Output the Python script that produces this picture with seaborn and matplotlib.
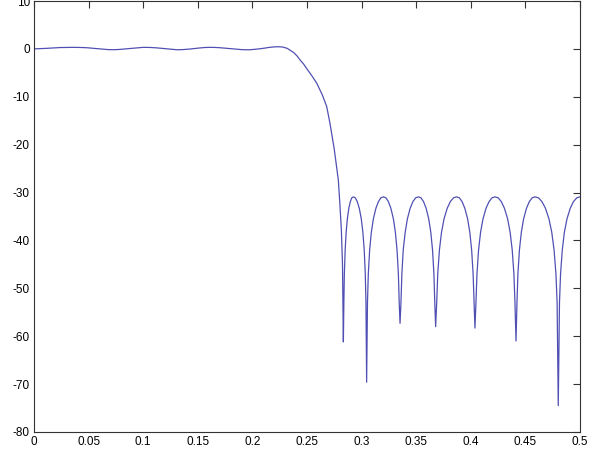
import pandas as pd
import seaborn as sns
import matplotlib
matplotlib.use("Agg")
import matplotlib.pyplot as plt

# normalised frequency (cycles/sample) and magnitude (dB)
pass_f = [
    0.000, 0.006, 0.012, 0.018, 0.024, 0.030, 0.036, 0.042, 0.048, 0.053, 0.058, 0.063,
    0.068, 0.073, 0.078, 0.083, 0.088, 0.094, 0.100, 0.106, 0.112, 0.117, 0.122, 0.126,
    0.131, 0.136, 0.142, 0.147, 0.152, 0.156, 0.160, 0.165, 0.170, 0.175, 0.180, 0.185,
    0.190, 0.194, 0.198, 0.202, 0.206, 0.211, 0.215, 0.220, 0.224, 0.228,
]
pass_db = [
    0.00, 0.05, 0.12, 0.21, 0.28, 0.31, 0.32, 0.30, 0.25, 0.16, 0.05, -0.06,
    -0.15, -0.17, -0.12, -0.02, 0.10, 0.22, 0.32, 0.30, 0.22, 0.11, 0.00, -0.10,
    -0.18, -0.15, -0.05, 0.08, 0.20, 0.28, 0.32, 0.31, 0.25, 0.15, 0.05, -0.06,
    -0.15, -0.18, -0.18, -0.10, 0.00, 0.15, 0.30, 0.42, 0.45, 0.38,
]

trans_f = [0.232, 0.235, 0.238, 0.241, 0.2436, 0.247, 0.250, 0.255, 0.259, 0.264,
           0.268, 0.271, 0.275, 0.2787, 0.2800, 0.2815, 0.2825]
trans_db = [0.10, -0.35, -0.80, -1.50, -2.3, -3.2, -4.2, -5.8, -7.2, -9.6,
            -12.0, -15.5, -21.0, -27.4, -32.0, -38.0, -45.0]

stop_f = [
    0.2833,
    0.28375, 0.28421, 0.28494, 0.28585, 0.28694, 0.28830, 0.28967, 0.29103, 0.2924,
    0.29423, 0.29606, 0.29789, 0.29972, 0.30118, 0.30240, 0.30338, 0.30399, 0.3046,
    0.30537, 0.30614, 0.30737, 0.30891, 0.31076, 0.31307, 0.31538, 0.31769, 0.3200,
    0.32228, 0.32456, 0.32684, 0.32912, 0.33094, 0.33246, 0.33368, 0.33444, 0.3352,
    0.33604, 0.33688, 0.33810, 0.33992, 0.34192, 0.34444, 0.34696, 0.34948, 0.3520,
    0.35437, 0.35674, 0.35911, 0.36148, 0.36338, 0.36496, 0.36622, 0.36701, 0.3678,
    0.36876, 0.36972, 0.37126, 0.37318, 0.37548, 0.37836, 0.38124, 0.38412, 0.3870,
    0.38952, 0.39204, 0.39456, 0.39708, 0.39910, 0.40078, 0.40212, 0.40296, 0.4038,
    0.40472, 0.40564, 0.40711, 0.40895, 0.41116, 0.41392, 0.41668, 0.41944, 0.4222,
    0.42508, 0.42796, 0.43084, 0.43372, 0.43602, 0.43794, 0.43948, 0.44044, 0.4414,
    0.44227, 0.44314, 0.44453, 0.44627, 0.44836, 0.45097, 0.45358, 0.45619, 0.4588,
    0.46200, 0.46519, 0.46839, 0.47158, 0.47414, 0.47627, 0.47797, 0.47904, 0.4801,
    0.48120, 0.48219, 0.48378, 0.48567, 0.48806, 0.49104, 0.49403, 0.49701, 0.5000,
]
stop_db = [
    -61.2,
    -53.0, -47.0, -42.0, -38.3, -35.5, -33.3, -31.9, -31.1, -30.9,
    -31.1, -31.9, -33.3, -35.5, -38.3, -42.0, -47.0, -53.0, -69.6,
    -53.0, -47.0, -42.0, -38.3, -35.5, -33.3, -31.9, -31.1, -30.9,
    -31.1, -31.9, -33.3, -35.5, -38.3, -42.0, -47.0, -53.0, -57.3,
    -53.0, -47.0, -42.0, -38.3, -35.5, -33.3, -31.9, -31.1, -30.9,
    -31.1, -31.9, -33.3, -35.5, -38.3, -42.0, -47.0, -53.0, -58.0,
    -53.0, -47.0, -42.0, -38.3, -35.5, -33.3, -31.9, -31.1, -30.9,
    -31.1, -31.9, -33.3, -35.5, -38.3, -42.0, -47.0, -53.0, -58.3,
    -53.0, -47.0, -42.0, -38.3, -35.5, -33.3, -31.9, -31.1, -30.9,
    -31.1, -31.9, -33.3, -35.5, -38.3, -42.0, -47.0, -53.0, -61.0,
    -53.0, -47.0, -42.0, -38.3, -35.5, -33.3, -31.9, -31.1, -30.9,
    -31.1, -31.9, -33.3, -35.5, -38.3, -42.0, -47.0, -53.0, -74.5,
    -53.0, -47.0, -42.0, -38.3, -35.5, -33.3, -31.9, -31.1, -30.9,
]

x_ticks = [0, 0.05, 0.1, 0.15, 0.2, 0.25, 0.3, 0.35, 0.4, 0.45, 0.5]
x_labels = ["0", "0.05", "0.1", "0.15", "0.2", "0.25", "0.3", "0.35", "0.4", "0.45", "0.5"]
y_ticks = [-80, -70, -60, -50, -40, -30, -20, -10, 0, 10]
y_labels = ["-80", "-70", "-60", "-50", "-40", "-30", "-20", "-10", "0", "10"]

sns.set_style("white")
plt.rcParams["font.family"] = ["Liberation Sans", "DejaVu Sans"]
plt.rcParams["axes.unicode_minus"] = False

df = pd.DataFrame({"f": pass_f + trans_f + stop_f,
                   "db": pass_db + trans_db + stop_db})

fig = plt.figure(figsize=(6.0, 4.49), dpi=100)
ax = fig.add_axes([34 / 600, 1 - 432 / 449, 546 / 600, 431 / 449])
sns.lineplot(data=df, x="f", y="db", ax=ax, color="#5050b4", linewidth=0.9,
             estimator=None, sort=False)

ax.set_xlim(0, 0.5)
ax.set_ylim(-80, 10)
ax.set_xticks(x_ticks)
ax.set_xticklabels(x_labels)
ax.set_yticks(y_ticks)
ax.set_yticklabels(y_labels)
ax.set_xlabel("")
ax.set_ylabel("")
ax.tick_params(direction="in", length=5, width=0.8, colors="#333333",
               labelcolor="black", labelsize=8.5, top=True, right=True, pad=3)
for sp in ax.spines.values():
    sp.set_color("#333333")
    sp.set_linewidth(0.8)

fig.savefig("out.png", dpi=100)
